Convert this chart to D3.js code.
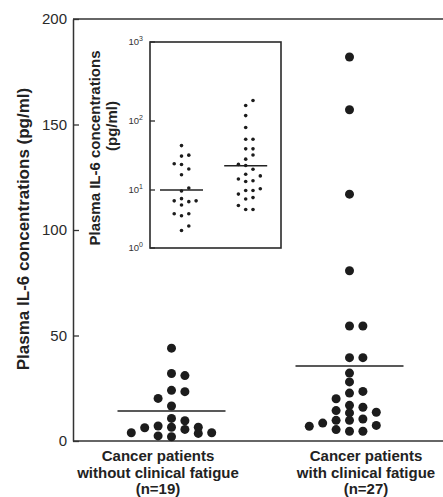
<!DOCTYPE html>
<html>
<head>
<meta charset="utf-8">
<script src="https://cdn.jsdelivr.net/npm/d3@7"></script>
<style>
body{margin:0;background:#fff;}
svg{display:block;font-family:"Liberation Sans",Arial,sans-serif;}
</style>
</head>
<body>
<svg width="443" height="497"></svg>
<script>
// ---- data ----
var groupLabels = [["Cancer patients","without clinical fatigue","(n=19)"],
                   ["Cancer patients","with clinical fatigue","(n=27)"]];
var noFatigueIL6 = [44,32,31,24,23.4,20.2,16.6,10.7,9.6,3.9,6.3,7.1,6.5,5.5,6.5,3.6,3.9,2.4,2.0];
var noFatigueCol = [0,0,1,0,1,-1,0,0,1,-3,-2,-1,0,1,2,2,3,-1,0];
var fatigueIL6 = [182,157,117,80.7,54.5,54.5,39.5,39.5,32.2,28,22.7,16.9,13.3,9.8,4.6,
                  23.5,16,10.4,4.6,20,14.4,9.8,5.4,13.6,7.4,8.5,7];
var fatigueCol = [0,0,0,0,0,1,0,1,0,0,0,0,0,0,0,1,1,1,1,-1,-1,-1,-1,2,2,-2,-3];
var meanLines = [14.2,35.6];
var insetLines = [10,22.5];
var yTicks = [0,50,100,150,200];
var insetTicks = [1,10,100,1000];
var yTitle = "Plasma IL-6 concentrations (pg/ml)";
var insetTitle = ["Plasma IL-6 concentrations","(pg/ml)"];

var svg = d3.select("svg");
var ink = "#1c1c1c";

//////// main scales
var y = d3.scaleLinear().domain([0,200]).range([441,19]);
var xDots = d3.scalePoint().domain([0,1]).range([171.5,349.5]);
var xLab = d3.scalePoint().domain([0,1]).range([158,366]);
var col = d3.scaleLinear().domain([-1,1]).range([-13.4,13.4]);
var left = 73, right = 443;

// frame lines (top + bottom run to the edge)
svg.append("line").attr("x1",left).attr("x2",right).attr("y1",y(200)).attr("y2",y(200))
   .attr("stroke","#666").attr("stroke-width",2);
svg.append("line").attr("x1",left).attr("x2",right).attr("y1",y(0)).attr("y2",y(0))
   .attr("stroke","#333").attr("stroke-width",1.6);

var yAxis = svg.append("g")
    .attr("transform","translate(" + left + ",0)")
    .call(d3.axisLeft(y).tickValues(yTicks).tickSizeInner(-6).tickSizeOuter(0).tickPadding(6));
yAxis.select(".domain").attr("stroke","#333").attr("stroke-width",1.5);
yAxis.selectAll(".tick line").attr("stroke","#333").attr("stroke-width",1.3);
yAxis.selectAll(".tick text").attr("font-size",15).attr("fill","#2a2a2a")
     .attr("font-family","Liberation Sans, Arial, sans-serif");

svg.append("text")
   .attr("transform","translate(23," + 229 + ") rotate(-90)")
   .attr("text-anchor","middle").attr("dy","0.35em")
   .attr("font-size",17).attr("font-weight","bold").attr("fill","#222")
   .text(yTitle);

// category labels
groupLabels.forEach(function(lines,i){
  var t = svg.append("text").attr("text-anchor","middle")
             .attr("font-size",15).attr("font-weight","bold").attr("fill","#222");
  lines.forEach(function(s,j){
    t.append("tspan").attr("x",xLab(i)).attr("y",461 + j*16.5).text(s);
  });
});

// mean lines
svg.selectAll(".mean").data(meanLines).enter().append("line")
   .attr("class","mean")
   .attr("x1",function(d,i){ return xDots(i) - 54; })
   .attr("x2",function(d,i){ return xDots(i) + 54; })
   .attr("y1",function(d){ return y(d); })
   .attr("y2",function(d){ return y(d); })
   .attr("stroke","#222").attr("stroke-width",1.5);

// dots
var groupsMain = [
  noFatigueIL6.map(function(v,i){ return {g:0, v:v, c:noFatigueCol[i]}; }),
  fatigueIL6.map(function(v,i){ return {g:1, v:v, c:fatigueCol[i]}; })
];
svg.append("g").selectAll("circle")
   .data(groupsMain[0].concat(groupsMain[1]))
   .enter().append("circle")
   .attr("cx",function(d){ return xDots(d.g) + col(d.c); })
   .attr("cy",function(d){ return y(d.v); })
   .attr("r",4.5)
   .attr("fill",ink);

//////// inset (log scale; the scanned axis is slightly uneven)
var yIn = d3.scaleLog().domain([1,10,100,1000]).range([248,190,121,42]);
var xIn = d3.scalePoint().domain([0,1]).range([181.5,245.7]);
var colIn = d3.scaleLinear().domain([-1,1]).range([-7.3,7.3]);
var inL = 150, inR = 281;

svg.append("rect")
   .attr("x",inL).attr("y",yIn(1000))
   .attr("width",inR - inL).attr("height",yIn(1) - yIn(1000))
   .attr("fill","none").attr("stroke","#2a2a2a").attr("stroke-width",1.6);

svg.selectAll(".itick").data(insetTicks).enter().append("line")
   .attr("class","itick")
   .attr("x1",inL).attr("x2",inL + 5)
   .attr("y1",function(d){ return yIn(d); })
   .attr("y2",function(d){ return yIn(d); })
   .attr("stroke","#2a2a2a").attr("stroke-width",1.3);

var itl = svg.selectAll(".itl").data(insetTicks).enter().append("text")
   .attr("class","itl")
   .attr("x",143).attr("y",function(d){ return yIn(d) + 3; })
   .attr("text-anchor","end").attr("font-size",9.5).attr("fill","#333");
itl.append("tspan").text("10");
itl.append("tspan").attr("dy",-4).attr("font-size",7)
   .text(function(d){ return Math.round(Math.log10(d)); });

var it = svg.append("text")
   .attr("transform","translate(0,0)")
   .attr("font-size",15).attr("font-weight","bold").attr("fill","#222")
   .attr("text-anchor","middle");
svg.append("text")
   .attr("transform","translate(95,148) rotate(-90)")
   .attr("text-anchor","middle").attr("dy","0.35em")
   .attr("font-size",15).attr("font-weight","bold").attr("fill","#222")
   .text(insetTitle[0]);
svg.append("text")
   .attr("transform","translate(112,126) rotate(-90)")
   .attr("text-anchor","middle").attr("dy","0.35em")
   .attr("font-size",15).attr("font-weight","bold").attr("fill","#222")
   .text(insetTitle[1]);

// simple dot-plot stacking for the inset
function stack(vals, g){
  var placed = [];
  vals.slice().sort(d3.ascending).forEach(function(v){
    var py = yIn(v);
    var slots = [0,1,-1,2,-2,3,-3];
    for (var s = 0; s < slots.length; s++){
      var k = slots[s];
      var hit = placed.some(function(p){ return p.k == k && Math.abs(p.py - py) < 6; });
      if (!hit){ placed.push({g:g, v:v, k:k, py:py}); break; }
    }
  });
  return placed;
}
var insetDots = stack(noFatigueIL6,0).concat(stack(fatigueIL6,1));

svg.selectAll(".iline").data(insetLines).enter().append("line")
   .attr("class","iline")
   .attr("x1",function(d,i){ return xIn(i) - 21.5; })
   .attr("x2",function(d,i){ return xIn(i) + 21.5; })
   .attr("y1",function(d){ return yIn(d); })
   .attr("y2",function(d){ return yIn(d); })
   .attr("stroke","#222").attr("stroke-width",1.6);

svg.append("g").selectAll("circle")
   .data(insetDots)
   .enter().append("circle")
   .attr("cx",function(d){ return xIn(d.g) + colIn(d.k); })
   .attr("cy",function(d){ return yIn(d.v); })
   .attr("r",1.8)
   .attr("fill",ink);
</script>
</body>
</html>
